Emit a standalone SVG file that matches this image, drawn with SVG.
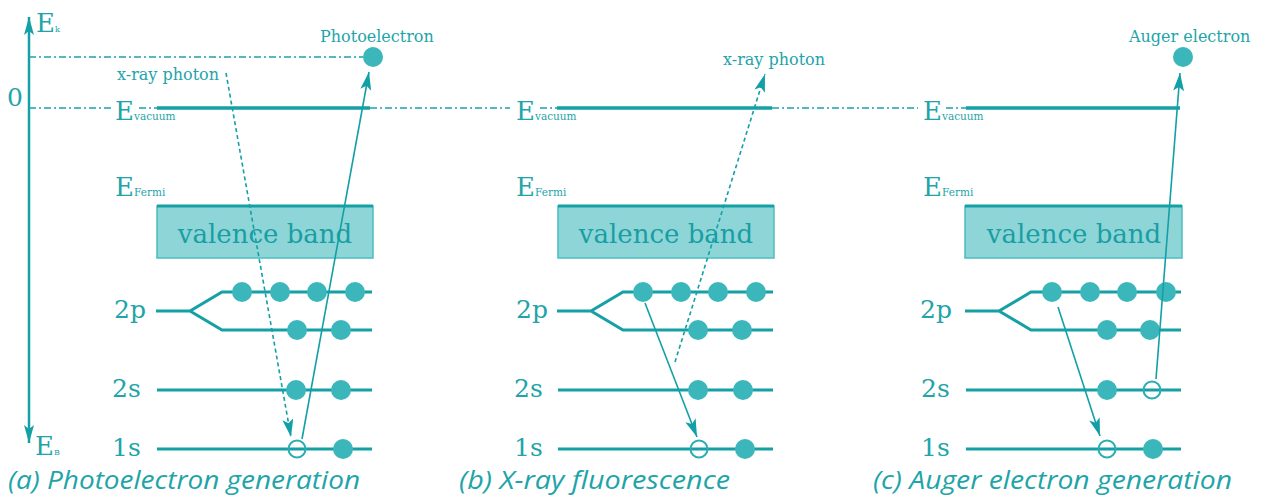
<svg xmlns="http://www.w3.org/2000/svg" width="1267" height="500" viewBox="0 0 1267 500">
<style>
  .t { font-family: "DejaVu Serif", serif; fill: #1ea4a9; }
  .lbl { font-size: 16px; }
  .E { font-size: 26px; }
  .sub { font-size: 10.5px; }
  .lvl { font-size: 25px; }
  .vb { font-size: 26px; text-anchor: middle; fill: #189ea3; }
  .cap { font-family: "Open Sans", "Noto Sans", sans-serif; font-style: italic; font-size: 25.5px; fill: #1ea4a9; }
  .lev { stroke: #15a0a6; stroke-width: 3; fill: none; }
  .vac { stroke: #15a0a6; stroke-width: 3.5; fill: none; }
  .dd { stroke: #1aa3a8; stroke-width: 1.6; stroke-dasharray: 7 3 2 3; fill: none; }
  .dot { fill: #3bb7bc; }
  .hole { fill: none; stroke: #2aaeb3; stroke-width: 2; }
  .box { fill: #8ed5d8; stroke: #4bbcc0; stroke-width: 1.5; }
  .fermi { stroke: #15a0a6; stroke-width: 3; }
  .arr { stroke: #12a0a6; stroke-width: 1.6; fill: none; marker-end: url(#ah); }
  .dash { stroke-dasharray: 4 3; }
  .axis { stroke: #15a0a6; stroke-width: 2.5; fill: none; }
</style>
<defs>
  <marker id="ah" markerUnits="userSpaceOnUse" markerWidth="19" markerHeight="12" refX="18" refY="5.5" orient="auto">
    <path d="M0,0 L18,5.5 L0,11 L4,5.5 z" fill="#12a0a6"/>
  </marker>
  <marker id="axh" markerUnits="userSpaceOnUse" markerWidth="19" markerHeight="11" refX="18" refY="5" orient="auto">
    <path d="M0,0 L18,5 L0,10 L4,5 z" fill="#15a0a6"/>
  </marker>
</defs>
<rect width="1267" height="500" fill="#ffffff"/>

<g id="axis">
  <line class="axis" x1="29" y1="230" x2="29" y2="17" marker-end="url(#axh)"/>
  <line class="axis" x1="29" y1="230" x2="29" y2="443" marker-end="url(#axh)"/>
  <text class="t E" x="36" y="32">E<tspan font-size="8">k</tspan></text>
  <text class="t E" x="35" y="455">E<tspan font-size="8">B</tspan></text>
  <text class="t" x="7" y="106" font-size="25">0</text>
</g>

<g id="reference-lines">
  <line class="dd" x1="29" y1="57" x2="363" y2="57"/>
  <line class="dd" x1="29" y1="108" x2="113" y2="108"/>
  <line class="dd" x1="139" y1="108" x2="157" y2="108"/>
  <line class="dd" x1="370" y1="108" x2="510" y2="108"/>
  <line class="dd" x1="540" y1="108" x2="557" y2="108"/>
  <line class="dd" x1="772" y1="108" x2="918" y2="108"/>
  <line class="dd" x1="946" y1="108" x2="966" y2="108"/>
</g>

<!-- Panel a -->
<g id="panel-a">
  <line class="vac" x1="157" y1="108" x2="370" y2="108"/>
  <text class="t E" x="115" y="120">E<tspan class="sub">vacuum</tspan></text>
  <text class="t E" x="115" y="196">E<tspan class="sub">Fermi</tspan></text>
  <rect class="box" x="157" y="206" width="216" height="52"/>
  <line class="fermi" x1="157" y1="206" x2="373" y2="206"/>
  <text class="t vb" x="265" y="243">valence band</text>
  <path class="lev" d="M156,311 H190 L222,292 H372 M190,311 L222,330 H372"/>
  <line class="lev" x1="157" y1="390" x2="372" y2="390"/>
  <line class="lev" x1="157" y1="449" x2="372" y2="449"/>
  <text class="t lvl" x="114" y="318">2p</text>
  <text class="t lvl" x="112" y="397">2s</text>
  <text class="t lvl" x="112" y="456">1s</text>
  <circle class="dot" cx="242" cy="292" r="10"/>
  <circle class="dot" cx="280" cy="292" r="10"/>
  <circle class="dot" cx="317" cy="292" r="10"/>
  <circle class="dot" cx="355" cy="292" r="10"/>
  <circle class="dot" cx="297" cy="330" r="10"/>
  <circle class="dot" cx="341" cy="330" r="10"/>
  <circle class="dot" cx="296" cy="390" r="10"/>
  <circle class="dot" cx="341" cy="390" r="10"/>
  <circle class="hole" cx="297" cy="449" r="8.5"/>
  <circle class="dot" cx="343" cy="449" r="10"/>
  <circle class="dot" cx="373" cy="57" r="10"/>
  <text class="t lbl" x="320" y="42">Photoelectron</text>
  <text class="t lbl" x="117" y="80">x-ray photon</text>
  <text class="cap" x="8" y="489" textLength="352" lengthAdjust="spacingAndGlyphs">(a) Photoelectron generation</text>
</g>

<!-- Panel b -->
<g id="panel-b">
  <line class="vac" x1="557" y1="108" x2="772" y2="108"/>
  <text class="t E" x="516" y="120">E<tspan class="sub">vacuum</tspan></text>
  <text class="t E" x="516" y="196">E<tspan class="sub">Fermi</tspan></text>
  <rect class="box" x="558" y="206" width="216" height="52"/>
  <line class="fermi" x1="558" y1="206" x2="774" y2="206"/>
  <text class="t vb" x="666" y="243">valence band</text>
  <path class="lev" d="M557,311 H591 L623,292 H773 M591,311 L623,330 H773"/>
  <line class="lev" x1="558" y1="390" x2="773" y2="390"/>
  <line class="lev" x1="558" y1="449" x2="773" y2="449"/>
  <text class="t lvl" x="516" y="318">2p</text>
  <text class="t lvl" x="514" y="397">2s</text>
  <text class="t lvl" x="514" y="456">1s</text>
  <circle class="dot" cx="643" cy="292" r="10"/>
  <circle class="dot" cx="681" cy="292" r="10"/>
  <circle class="dot" cx="718" cy="292" r="10"/>
  <circle class="dot" cx="756" cy="292" r="10"/>
  <circle class="dot" cx="698" cy="330" r="10"/>
  <circle class="dot" cx="742" cy="330" r="10"/>
  <circle class="dot" cx="698" cy="390" r="10"/>
  <circle class="dot" cx="743" cy="390" r="10"/>
  <circle class="hole" cx="699" cy="449" r="8.5"/>
  <circle class="dot" cx="745" cy="449" r="10"/>
  <text class="t lbl" x="723" y="65">x-ray photon</text>
  <text class="cap" x="459" y="489" textLength="271" lengthAdjust="spacingAndGlyphs">(b) X-ray fluorescence</text>
</g>

<!-- Panel c -->
<g id="panel-c">
  <line class="vac" x1="966" y1="108" x2="1180" y2="108"/>
  <text class="t E" x="923" y="120">E<tspan class="sub">vacuum</tspan></text>
  <text class="t E" x="923" y="196">E<tspan class="sub">Fermi</tspan></text>
  <rect class="box" x="965" y="206" width="217" height="52"/>
  <line class="fermi" x1="965" y1="206" x2="1182" y2="206"/>
  <text class="t vb" x="1074" y="243">valence band</text>
  <path class="lev" d="M965,311 H999 L1031,292 H1181 M999,311 L1031,330 H1181"/>
  <line class="lev" x1="966" y1="390" x2="1181" y2="390"/>
  <line class="lev" x1="966" y1="449" x2="1181" y2="449"/>
  <text class="t lvl" x="920" y="318">2p</text>
  <text class="t lvl" x="921" y="397">2s</text>
  <text class="t lvl" x="921" y="456">1s</text>
  <circle class="dot" cx="1052" cy="292" r="10"/>
  <circle class="dot" cx="1090" cy="292" r="10"/>
  <circle class="dot" cx="1127" cy="292" r="10"/>
  <circle class="dot" cx="1166" cy="292" r="10"/>
  <circle class="dot" cx="1107" cy="330" r="10"/>
  <circle class="dot" cx="1150" cy="330" r="10"/>
  <circle class="dot" cx="1107" cy="390" r="10"/>
  <circle class="hole" cx="1152" cy="390" r="8.5"/>
  <circle class="hole" cx="1107" cy="449" r="8.5"/>
  <circle class="dot" cx="1153" cy="449" r="10"/>
  <circle class="dot" cx="1183" cy="57" r="10"/>
  <text class="t lbl" x="1129" y="42">Auger electron</text>
  <text class="cap" x="873" y="489" textLength="359" lengthAdjust="spacingAndGlyphs">(c) Auger electron generation</text>
</g>

<g id="connectors">
  <line class="arr dash" x1="226" y1="73" x2="291" y2="437"/>
  <line class="arr" x1="302" y1="439" x2="369" y2="72"/>
  <line class="arr dash" x1="675" y1="362" x2="765" y2="74"/>
  <line class="arr" x1="645" y1="303" x2="697" y2="437"/>
  <line class="arr" x1="1058" y1="307" x2="1100" y2="436"/>
  <line class="arr" x1="1156" y1="379" x2="1180" y2="73"/>
</g>
</svg>
